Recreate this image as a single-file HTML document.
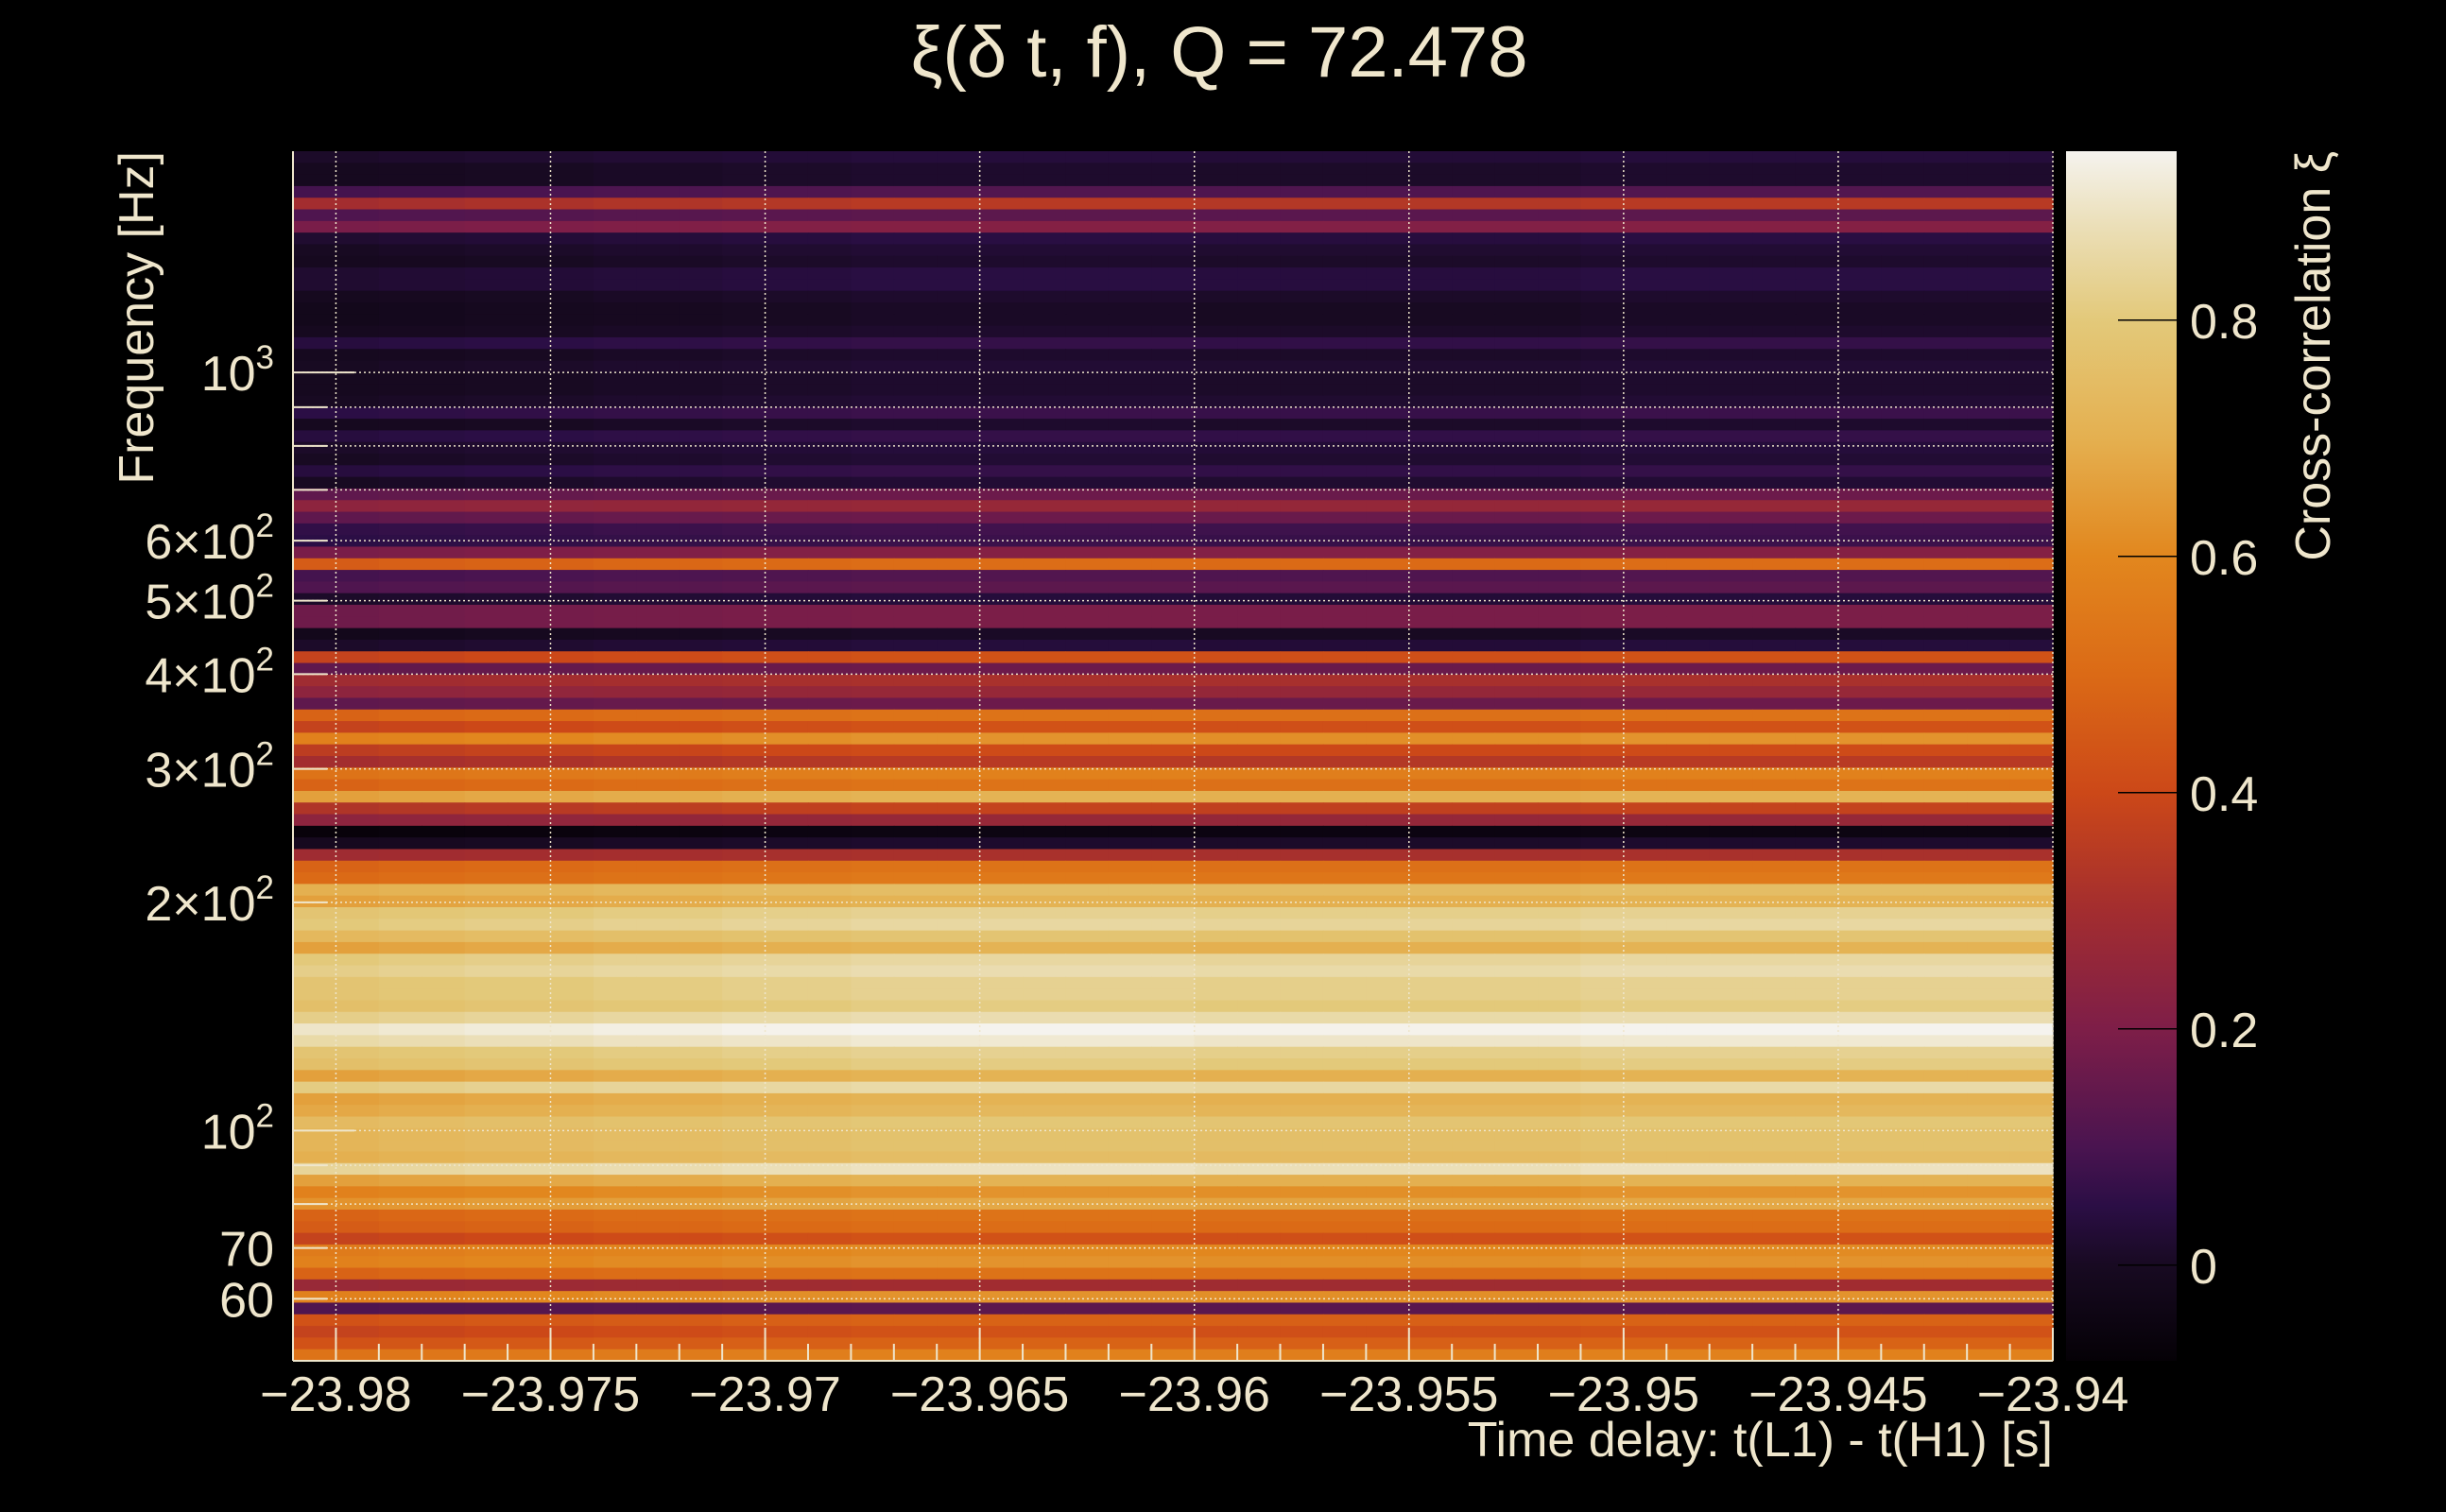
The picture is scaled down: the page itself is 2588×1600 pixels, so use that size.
<!DOCTYPE html>
<html><head><meta charset="utf-8"><style>
html,body{margin:0;padding:0;background:#000;}
svg{display:block;}
text{font-family:"Liberation Sans",sans-serif;fill:#efe6cc;}
</style></head><body>
<svg id="chart" width="2588" height="1600" viewBox="0 0 2588 1600" xmlns="http://www.w3.org/2000/svg">
<rect width="2588" height="1600" fill="#000"/>
<text x="1290" y="81" font-size="76" text-anchor="middle">ξ(δ t, f), Q = 72.478</text>
<g id="heat"></g>
<g id="grid"></g>
<g id="axes"></g>
<g id="cbar"></g>
<text transform="translate(162,160) rotate(-90)" font-size="52" text-anchor="end">Frequency [Hz]</text>
<text x="2172" y="1541" font-size="52" text-anchor="end">Time delay: t(L1) - t(H1) [s]</text>
<text transform="translate(2465,160) rotate(-90)" font-size="52" text-anchor="end">Cross-correlation ξ</text>
</svg>
<script>
// ---- data ----
const fMin = 49.7, fMax = 1958;
const tMin = -23.981, tMax = -23.94;
const vMin = -0.081, vMax = 0.943;
// row values top (high freq) to bottom (low freq), uniform in log frequency
const rowValues = [
0.02,0.0,0.0,0.1,0.32,0.12,0.2,0.03,0.01,0.0,0.03,0.03,0.0,-0.01,-0.01,0.0,0.05,0.0,0.01,0.0,
0.0,0.01,0.06,0.0,0.05,0.02,0.01,0.05,0.01,0.15,0.25,0.15,0.07,0.06,0.2,0.48,0.1,0.12,0.02,0.18,
0.18,-0.01,0.02,0.4,0.15,0.3,0.25,0.15,0.5,0.4,0.6,0.38,
0.32,0.55,0.5,0.68,0.35,0.25,-0.06,0.0,0.3,0.5,0.52,0.72,0.68,0.8,0.82,0.75,0.68,0.82,
0.84,0.8,0.8,0.78,0.84,0.92,0.88,0.8,0.78,0.68,0.83,0.68,0.7,0.76,0.74,0.74,0.72,0.86,0.68,0.6,
0.65,0.5,0.48,0.4,0.58,0.6,0.5,0.28,0.6,0.12,0.45,0.4,0.45,0.55];
// per-column (0.001 s bins) offset
const colOffsets = [
-0.02,-0.02,-0.01,-0.01,0.0,0.0,0.0,0.01,0.01,0.01,0.02,0.02,0.02,0.03,0.03,0.03,0.03,0.03,0.03,0.03,
0.03,0.02,0.02,0.02,0.02,0.02,0.02,0.02,0.02,0.02,0.03,0.03,0.03,0.03,0.03,0.03,0.03,0.03,0.03,0.03,0.03];
const xTicks = [-23.98,-23.975,-23.97,-23.965,-23.96,-23.955,-23.95,-23.945,-23.94];
const xTickLabels = ["\u221223.98","\u221223.975","\u221223.97","\u221223.965","\u221223.96","\u221223.955","\u221223.95","\u221223.945","\u221223.94"];
const yMinorTicks = [60,70,80,90,200,300,400,500,600,700,800,900];
const yMajorTicks = [100,1000];
const yLabelVals = [60,70,100,200,300,400,500,600,1000];
const yLabelMant = ["60","70","","2","3","4","5","6",""];
const yLabelExp = ["","","2","2","2","2","2","2","3"];
const cbTicks = [0,0.2,0.4,0.6,0.8];
const cbLabels = ["0","0.2","0.4","0.6","0.8"];
const cmapStops = [[-0.081,"#050106"],[0,"#180a22"],[0.05,"#2b0e45"],[0.1,"#4a1450"],[0.2,"#7e1e48"],[0.3,"#a32d2f"],[0.4,"#cc4818"],[0.5,"#db6a16"],[0.6,"#e2871e"],[0.7,"#e4b050"],[0.8,"#e3c97a"],[0.88,"#ebdfb8"],[0.943,"#f5f3ee"]];
// ---- scales ----
const PL=310, PR=2172, PT=160, PB=1440;
const xS = t => PL + (t - tMin)/(tMax - tMin)*(PR-PL);
const yS = f => PB - (Math.log10(f)-Math.log10(fMin))/(Math.log10(fMax)-Math.log10(fMin))*(PB-PT);
const CT=160, CB=1440, CL=2186, CR=2303;
const cS = v => CB - (v - vMin)/(vMax - vMin)*(CB-CT);
function hex(h){return [1,3,5].map(i=>parseInt(h.substr(i,2),16));}
function cmap(v){
  if(v<=cmapStops[0][0]) return cmapStops[0][1];
  for(let i=1;i<cmapStops.length;i++){
    if(v<=cmapStops[i][0]){
      const a=cmapStops[i-1], b=cmapStops[i], u=(v-a[0])/(b[0]-a[0]);
      const ca=hex(a[1]), cb=hex(b[1]);
      return "rgb("+ca.map((c,k)=>Math.round(c+(cb[k]-c)*u)).join(",")+")";
    }
  }
  return cmapStops[cmapStops.length-1][1];
}
const NS="http://www.w3.org/2000/svg";
function mk(tag,attrs,parent){const e=document.createElementNS(NS,tag);for(const k in attrs)e.setAttribute(k,attrs[k]);parent.appendChild(e);return e;}
// ---- heatmap ----
const heat=document.getElementById("heat");
const nR=rowValues.length, nC=colOffsets.length;
const lMin=Math.log10(fMin), lMax=Math.log10(fMax);
for(let i=0;i<nR;i++){
  const fTop=Math.pow(10,lMax-(lMax-lMin)*i/nR), fBot=Math.pow(10,lMax-(lMax-lMin)*(i+1)/nR);
  const y0=yS(fTop), y1=yS(fBot);
  for(let j=0;j<nC;j++){
    const t0=tMin+(tMax-tMin)*j/nC, t1=tMin+(tMax-tMin)*(j+1)/nC;
    const x0=xS(t0), x1=xS(t1);
    const v=rowValues[i]+colOffsets[j]*(rowValues[i]>0.3?1:0.5);
    const r=mk("rect",{x:x0.toFixed(2),y:y0.toFixed(2),width:(x1-x0+0.6).toFixed(2),height:(y1-y0+0.6).toFixed(2),fill:cmap(v)},heat);
    
    
  }
}
// ---- grid ----
const grid=document.getElementById("grid");
xTicks.forEach(t=>{
  const l=mk("line",{x1:xS(t),x2:xS(t),y1:PT,y2:PB,stroke:"#efe6cc","stroke-width":1.5,"stroke-dasharray":"2 3"},grid);
  
  
});
yMinorTicks.concat(yMajorTicks).forEach(f=>{
  const l=mk("line",{x1:PL,x2:PR,y1:yS(f),y2:yS(f),stroke:"#efe6cc","stroke-width":1.5,"stroke-dasharray":"2 3"},grid);
  
  
});
// ---- axes ----
const axes=document.getElementById("axes");
const la=mk("line",{x1:PL,x2:PL,y1:PT,y2:PB,stroke:"#efe6cc","stroke-width":2},axes);


const ba=mk("line",{x1:PL,x2:PR,y1:PB,y2:PB,stroke:"#efe6cc","stroke-width":2},axes);


for(let k=0;k<=41;k++){
  const t=tMin+0.001*k+0.000000001; if(t>tMax+1e-6) break;
  const major=xTicks.some(m=>Math.abs(m-t)<1e-6);
  const l=mk("line",{x1:xS(t),x2:xS(t),y1:PB,y2:PB-(major?35:18),stroke:"#efe6cc","stroke-width":2},axes);
  
  
}
xTicks.forEach((t,i)=>{
  const tx=mk("text",{x:xS(t),y:1493,"font-size":52,"text-anchor":"middle"},axes);
  tx.textContent=xTickLabels[i];
  
  
});
yMinorTicks.forEach(f=>{
  const l=mk("line",{x1:PL,x2:PL+36,y1:yS(f),y2:yS(f),stroke:"#efe6cc","stroke-width":2},axes);
  
  
});
yMajorTicks.forEach(f=>{
  const l=mk("line",{x1:PL,x2:PL+65,y1:yS(f),y2:yS(f),stroke:"#efe6cc","stroke-width":2},axes);
  
  
});
yLabelVals.forEach((f,i)=>{
  const tx=mk("text",{x:290,y:yS(f)+19,"font-size":52,"text-anchor":"end"},axes);
  if(yLabelExp[i]===""){tx.textContent=yLabelMant[i];}
  else{
    const base=(yLabelMant[i]?yLabelMant[i]+"\u00d7":"")+"10";
    const s1=mk("tspan",{},tx); s1.textContent=base;
    const s2=mk("tspan",{dy:-23,"font-size":35},tx); s2.textContent=yLabelExp[i];
  }
  
  
});
// ---- colorbar ----
const cbar=document.getElementById("cbar");
const defs=mk("defs",{},cbar);
const grad=mk("linearGradient",{id:"cg",x1:0,y1:1,x2:0,y2:0},defs);
cmapStops.forEach(s=>{mk("stop",{offset:((s[0]-vMin)/(vMax-vMin)).toFixed(4),"stop-color":s[1]},grad);});
const cr=mk("rect",{x:CL,y:CT,width:CR-CL,height:CB-CT,fill:"url(#cg)"},cbar);


cbTicks.forEach((v,i)=>{
  const l=mk("line",{x1:2241,x2:CR,y1:cS(v),y2:cS(v),stroke:"#000","stroke-width":1.5},cbar);
  
  
  const tx=mk("text",{x:2317,y:cS(v)+19,"font-size":52},cbar);
  tx.textContent=cbLabels[i];
  
  
});
</script>
</body></html>
